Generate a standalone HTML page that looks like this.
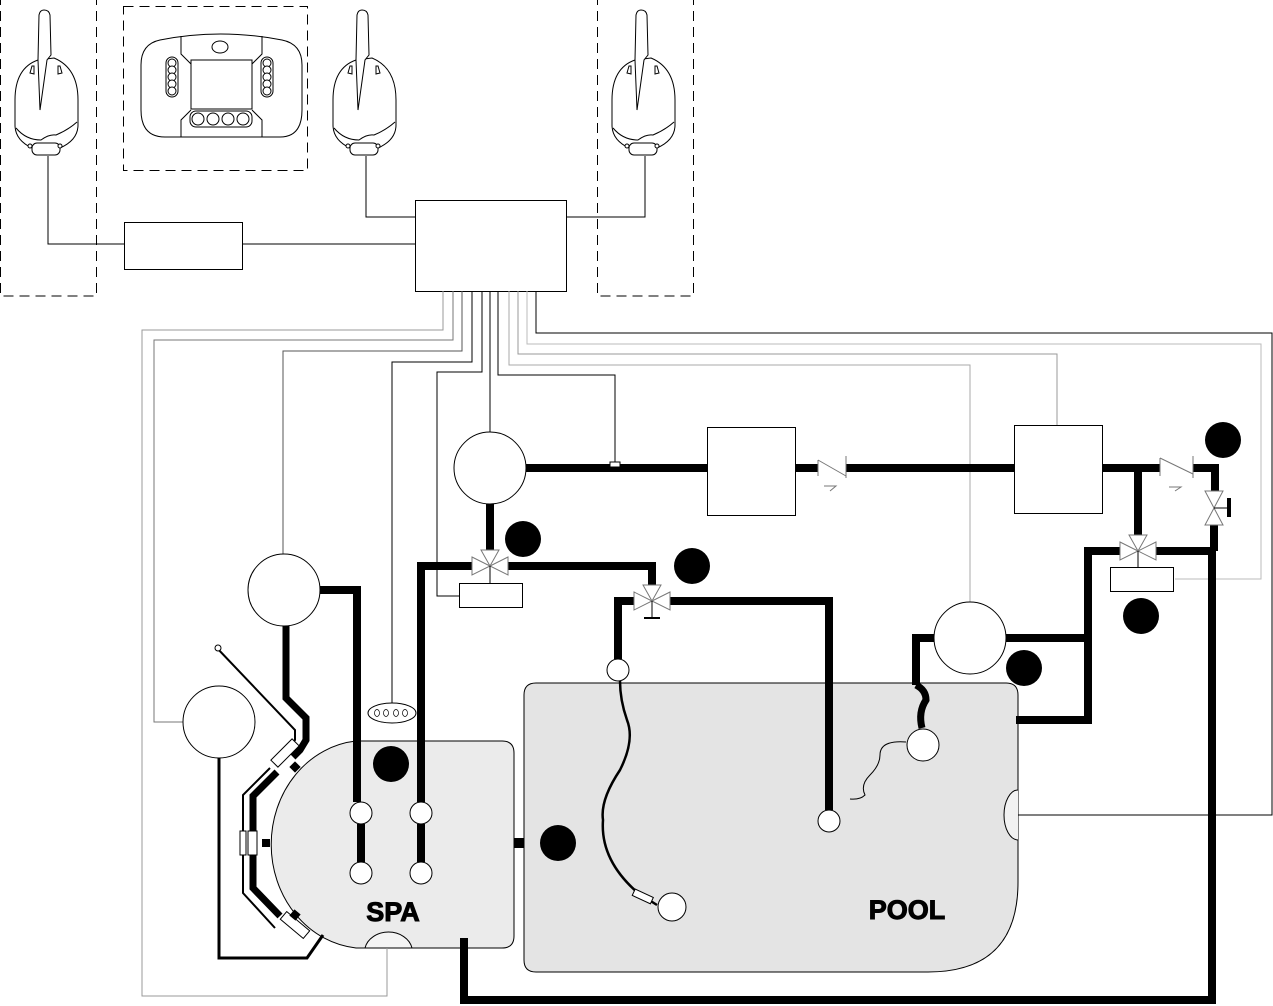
<!DOCTYPE html>
<html><head><meta charset="utf-8"><style>html,body{margin:0;padding:0;background:#fff}svg{display:block}</style></head>
<body>
<svg width="1273" height="1006" viewBox="0 0 1273 1006" xmlns="http://www.w3.org/2000/svg" font-family="Liberation Sans, sans-serif">
<defs>
<g id="rem" fill="#fff" stroke="#000" stroke-width="1">
<path d="M-8 60 Q-31 68 -31 100 L-31 125 Q-31 140 -14 148 L14 148 Q32 140 32 125 L32 100 Q32 68 8 58 Z"/>
<path d="M-30 128 Q-20 140 -5 140 Q3 134 10 135 Q22 130 31 122" fill="none"/>
<rect x="-14" y="143" width="28" height="12" rx="5"/>
<path d="M-7 15 Q-6 10 -2 10 Q3 10 4 15 L5 55 L1 60 L-6 110 L-8 60 Z"/>
<path d="M-16 73 L-14 66 L-12 66 L-12 74 Z M16 73 L14 66 L12 66 L12 74 Z"/>
<circle cx="-16" cy="146" r="2"/><circle cx="14" cy="146" r="2"/>
</g>
</defs>
<g fill="none" stroke="#000" stroke-width="1" stroke-dasharray="10,6">
<rect x="0.5" y="-5" width="96" height="301"/>
<rect x="123.5" y="6.5" width="184" height="164"/>
<rect x="597.5" y="-5" width="96" height="301"/>
</g>
<use href="#rem" x="46" y="0"/>
<use href="#rem" x="364" y="0"/>
<use href="#rem" x="643" y="0"/>
<g fill="#fff" stroke="#000" stroke-width="1">
<path d="M160 40 Q220 28 282 40 Q302 44 302 65 L302 110 Q302 137 280 137 L165 137 Q141 137 141 110 L141 65 Q141 44 160 40 Z"/>
<path d="M181 36 L181 54 L191 64 M262 36 L262 54 L252 64 M181 137 L181 120 L191 110 M262 137 L262 120 L252 110" fill="none"/>
<rect x="191" y="60" width="61" height="49"/>
<ellipse cx="220" cy="47" rx="8" ry="6"/>
<rect x="166" y="57" width="12" height="40" rx="6"/>
<rect x="261" y="57" width="12" height="40" rx="6"/>
<circle cx="172" cy="63" r="4"/><circle cx="172" cy="70" r="4"/><circle cx="172" cy="77" r="4"/><circle cx="172" cy="84" r="4"/><circle cx="172" cy="91" r="4"/>
<circle cx="267" cy="63" r="4"/><circle cx="267" cy="70" r="4"/><circle cx="267" cy="77" r="4"/><circle cx="267" cy="84" r="4"/><circle cx="267" cy="91" r="4"/>
<rect x="190" y="111" width="62" height="16" rx="6"/>
<circle cx="198" cy="119" r="6"/><circle cx="213" cy="119" r="6"/><circle cx="228" cy="119" r="6"/><circle cx="243" cy="119" r="6"/>
</g>
<g fill="none" stroke="#000" stroke-width="1">
<polyline points="48,156 48,244 124,244"/>
<line x1="242" y1="244" x2="415" y2="244"/>
<polyline points="366,156 366,217 415,217"/>
<polyline points="645,156 645,217 566,217"/>
<rect x="124.5" y="222.5" width="118" height="47" fill="#fff"/>
<rect x="415.5" y="200.5" width="151" height="91" fill="#fff"/>
</g>
<path d="M536 683 L1006 683 Q1018 683 1018 695 L1018 882 Q1018 972 928 972 L536 972 Q524 972 524 960 L524 695 Q524 683 536 683 Z" fill="#e4e4e4" stroke="#000" stroke-width="1"/>
<path d="M1018 790 A14 25 0 0 0 1018 840" fill="#f2f2f2" stroke="#000"/>
<path d="M356 741 L502 741 Q514 741 514 753 L514 936 Q514 948 502 948 L356 948 A94 104 0 0 1 356 741 Z" fill="#ebebeb" stroke="#000" stroke-width="1"/>
<path d="M365 948 A24 20 0 0 1 412 948 Z" fill="#f4f4f4" stroke="#000"/>
<g fill="none" stroke-width="1">
<polyline stroke="#999" points="443,291 443,330 142,330 142,996 387,996 387,948"/>
<polyline stroke="#777" points="453,291 453,340 154,340 154,722 183,722"/>
<polyline stroke="#555" points="462,291 462,351 283,351 283,554"/>
<polyline stroke="#000" points="472,291 472,362 392,362 392,703"/>
<polyline stroke="#000" points="482,291 482,372 437,372 437,596 459,596"/>
<polyline stroke="#000" points="490,291 490,432"/>
<polyline stroke="#000" points="498,291 498,375 615,375 615,463"/>
<polyline stroke="#aaa" points="509,291 509,365 970,365 970,602"/>
<polyline stroke="#999" points="518,291 518,354 1057,354 1057,425"/>
<polyline stroke="#bbb" points="527,291 527,344 1261,344 1261,579 1175,579"/>
<polyline stroke="#000" points="536,291 536,333 1272,333 1272,815 1018,815"/>
</g>
<g fill="none" stroke="#000" stroke-width="8" stroke-linejoin="miter">
<line x1="526" y1="468" x2="707" y2="468"/>
<line x1="795" y1="468" x2="818" y2="468"/>
<line x1="846" y1="468" x2="1014" y2="468"/>
<polyline points="1102,468 1160,468"/>
<polyline points="1193,468 1215,468 1215,493"/>
<line x1="1138" y1="468" x2="1138" y2="535"/>
<polyline points="1120,551 1088,551 1088,720 1016,720"/>
<line x1="1006" y1="638" x2="1088" y2="638"/>
<polyline points="1156,551 1212,551 1212,1000 464,1000 464,938"/>
<line x1="1214" y1="525" x2="1214" y2="551"/>
<polyline points="934,638 916,638 916,685"/>
<path d="M916 685 Q926 690 926 700 Q918 712 922 728" stroke-width="7"/>
<line x1="490" y1="504" x2="490" y2="550"/>
<polyline points="472,566 421,566 421,802"/>
<polyline points="508,566 652,566 652,585"/>
<polyline points="634,601 618,601 618,659"/>
<polyline points="668,601 829,601 829,810"/>
<polyline points="320,590 357,590 357,802"/>
<line x1="361" y1="824" x2="361" y2="862"/>
<line x1="421" y1="824" x2="421" y2="862"/>
<polyline points="286,626 286,698 306,718 306,740 300,750 293,757" stroke-width="7"/>
<polyline points="277,772 253,796 253,888 280,916" stroke-width="7"/>
<line x1="262" y1="843" x2="268" y2="843"/>
</g>
<g fill="none" stroke="#000" stroke-width="2">
<polyline points="216,647 295,730 295,740 285,750"/>
<polyline points="270,768 243,795 243,893 275,928"/>
<polyline points="219,758 219,958 307,958 323,935" stroke-width="3"/>
<path d="M620 681 Q620 700 627 720 Q635 740 620 770 Q600 800 603 820 Q600 860 638 893 L657 905" stroke-width="2.5"/>
</g>
<path d="M906 742 Q880 740 880 755 Q880 765 870 775 Q860 785 865 795 Q860 800 850 799" fill="none" stroke="#000" stroke-width="1"/>
<g fill="#fff" stroke="#000" stroke-width="1">
<rect x="270" y="748" width="30" height="10" transform="rotate(-45 285 753)"/>
<rect x="280" y="920" width="30" height="10" transform="rotate(40 295 925)"/>
<rect x="240" y="831" width="6" height="24"/><rect x="248" y="831" width="9" height="24"/>
<rect x="633" y="893" width="20" height="7" transform="rotate(25 643 896)"/>
</g>
<rect x="262" y="839" width="8" height="8"/><rect x="291" y="763" width="8" height="8" transform="rotate(-45 295 767)"/><rect x="291" y="911" width="8" height="8" transform="rotate(40 295 915)"/>
<rect x="514" y="838" width="10" height="10"/><rect x="1016" y="717" width="12" height="6"/>
<g fill="#fff" stroke="#000" stroke-width="1">
<circle cx="490" cy="468" r="36"/>
<circle cx="284" cy="590" r="36"/>
<circle cx="219" cy="722" r="36"/>
<circle cx="970" cy="638" r="36"/>
<circle cx="361" cy="813" r="11"/><circle cx="421" cy="813" r="11"/>
<circle cx="361" cy="873" r="11"/><circle cx="421" cy="873" r="11"/>
<circle cx="618" cy="670" r="11"/><circle cx="829" cy="821" r="11"/>
<circle cx="923" cy="745" r="16"/><circle cx="672" cy="907" r="14"/>
<circle cx="218" cy="648" r="3"/>
<rect x="707.5" y="427.5" width="88" height="88"/>
<rect x="1014.5" y="425.5" width="88" height="88"/>
<rect x="459.5" y="583.5" width="63" height="24"/>
<rect x="1110.5" y="567.5" width="63" height="24"/>
<rect x="610" y="462" width="10" height="5"/>
<ellipse cx="392" cy="713" rx="24" ry="10"/>
</g>
<g fill="none" stroke="#000" stroke-width="0.7"><ellipse cx="377" cy="713" rx="2.5" ry="3.5"/><ellipse cx="386" cy="713" rx="2.5" ry="3.5"/><ellipse cx="396" cy="713" rx="2.5" ry="3.5"/><ellipse cx="405" cy="713" rx="2.5" ry="3.5"/></g>
<g fill="#fff" stroke="#777" stroke-width="1">
<path d="M472 557 L490 566 L472 575 Z M508 557 L490 566 L508 575 Z M481 550 L499 550 L490 566 Z"/>
<path d="M634 592 L652 601 L634 610 Z M670 592 L652 601 L670 610 Z M643 585 L661 585 L652 601 Z"/>
<path d="M1120 542 L1138 551 L1120 560 Z M1156 542 L1138 551 L1156 560 Z M1129 535 L1147 535 L1138 551 Z"/>
<path d="M1205 491 L1223 491 L1214 508 Z M1205 525 L1223 525 L1214 508 Z"/>
<path d="M818 460 L846 476 M818 460 L818 476 M846 456 L846 478 M824 486 L836 486 L830 491" fill="none"/>
<path d="M1160 458 L1193 474 M1160 458 L1160 476 M1193 456 L1193 478 M1169 487 L1181 487 L1175 491" fill="none"/>
</g>
<g stroke="#000" stroke-width="1" fill="none">
<line x1="490" y1="566" x2="490" y2="583"/><line x1="1138" y1="551" x2="1138" y2="567"/>
<line x1="652" y1="601" x2="652" y2="618"/><line x1="644" y1="618" x2="660" y2="618" stroke-width="2"/>
<line x1="1214" y1="508" x2="1228" y2="508"/>
</g>
<rect x="1227" y="498" width="4" height="19"/>
<g fill="#000">
<circle cx="1223" cy="440" r="18"/><circle cx="523" cy="539" r="18"/><circle cx="692" cy="566" r="18"/>
<circle cx="1141" cy="616" r="18"/><circle cx="1024" cy="668" r="18"/><circle cx="391" cy="764" r="18"/><circle cx="558" cy="843" r="18"/>
</g>
<text x="393" y="921" font-size="27" font-weight="bold" text-anchor="middle" stroke="#000" stroke-width="1">SPA</text>
<text x="907" y="919" font-size="27" font-weight="bold" text-anchor="middle" stroke="#000" stroke-width="1">POOL</text>
</svg>
</body></html>
